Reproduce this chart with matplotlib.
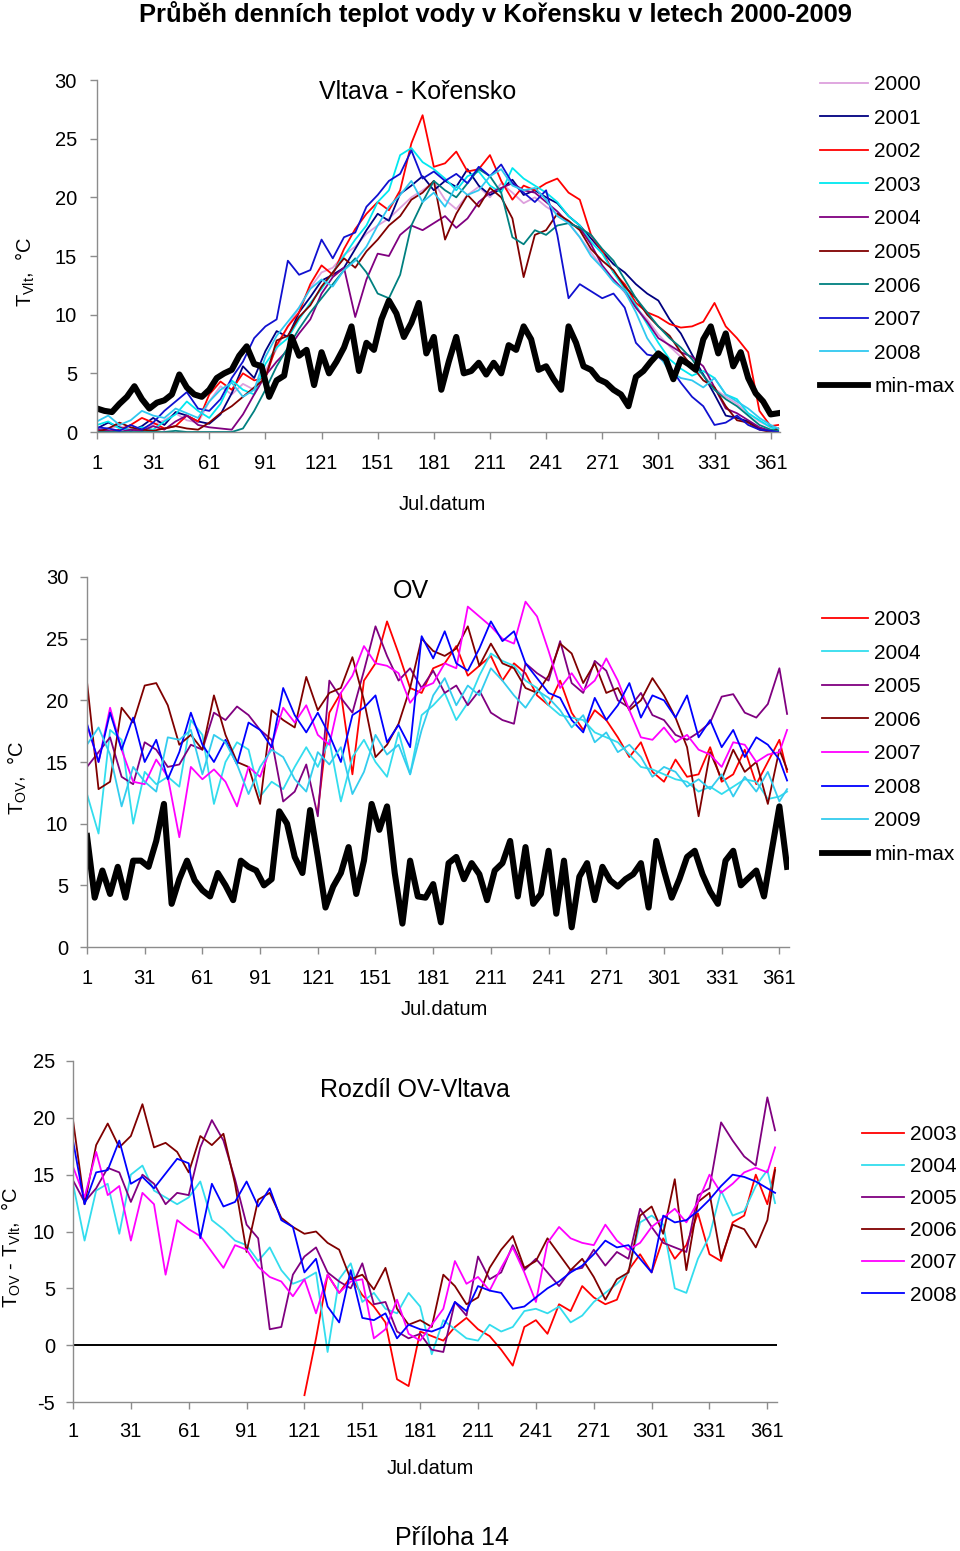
import numpy as np
import matplotlib
matplotlib.use('Agg')
import matplotlib.pyplot as plt
from matplotlib.lines import Line2D

plt.rcParams['font.family'] = ['Liberation Sans', 'DejaVu Sans']
plt.rcParams['mathtext.fontset'] = 'custom'
plt.rcParams['mathtext.rm'] = 'Liberation Sans'
plt.rcParams['mathtext.it'] = 'Liberation Sans:italic'
plt.rcParams['axes.unicode_minus'] = False

nan = np.nan

# day grid of the yearly series (every 6th day) and of the min-max series (every 4th day)
DAYS = list(range(1, 362, 6)) + [365]
DAYS_MM = list(range(1, 366, 4))
XTICKS = list(range(1, 362, 30))

# ---------------- Vltava - Korensko ----------------
vlt_years = ['2000', '2001', '2002', '2003', '2004', '2005', '2006', '2007', '2008']
vlt_colors = ['#DDA0DD', '#000080', '#FF0000', '#00E8F0', '#800080', '#800000', '#008080', '#1010D0', '#30C8F0']

vlt_2000 = [0.2, 0.3, 0.5, 0.2, 0.3, 0.6, 1.0, 1.6, 1.0, 0.8,
            2.6, 3.9, 3.2, 4.1, 3.6, 5.2, 7.1, 9.0, 10.6, 12.3,
            13.6, 14.0, 15.1, 15.8, 16.9, 17.6, 18.2, 19.1, 20.0, 20.6,
            21.3, 19.8, 19.0, 20.2, 20.9, 20.0, 21.2, 20.4, 19.5, 20.0,
            19.2, 18.6, 17.8, 16.6, 15.3, 14.0, 13.0, 11.9, 10.6, 9.6,
            8.3, 7.3, 6.4, 5.6, 4.9, 3.7, 3.0, 2.4, 1.6, 0.9, 0.4, 0.3]
vlt_2001 = [0.3, 0.8, 0.4, 0.1, 0.5, 1.2, 0.6, 1.7, 1.4, 0.9,
            0.7, 1.5, 3.3, 5.6, 4.6, 6.9, 8.6, 8.1, 10.2, 11.5,
            12.9, 13.4, 14.0, 15.6, 17.2, 18.6, 18.0, 20.3, 21.0, 21.8,
            20.6, 21.4, 20.9, 22.4, 21.0, 20.2, 20.7, 21.5, 20.2, 20.6,
            20.0, 19.5, 18.4, 17.6, 16.5, 15.4, 14.3, 13.6, 12.6, 11.8,
            11.2, 9.6, 8.4, 6.6, 4.9, 3.2, 1.4, 1.2, 0.9, 0.3, 0.1, 0.1]
vlt_2002 = [0.1, 0.0, 0.2, 0.6, 1.2, 0.8, 0.3, 0.5, 1.4, 0.9,
            3.2, 4.3, 3.6, 5.0, 4.4, 4.6, 7.4, 9.0, 10.2, 12.6,
            14.2, 13.4, 15.6, 17.3, 18.6, 19.6, 18.9, 20.6, 24.6, 27.0,
            22.6, 22.9, 23.9, 22.2, 22.4, 23.6, 21.4, 19.8, 21.0, 20.6,
            21.2, 21.6, 20.4, 19.8, 16.8, 15.4, 13.6, 12.6, 11.0, 10.2,
            9.8, 9.2, 8.9, 9.0, 9.4, 11.0, 9.0, 8.0, 6.8, 1.8, 0.5, 0.6]
vlt_2003 = [0.6, 0.9, 0.3, 0.2, 0.4, 0.2, 0.9, 1.5, 2.6, 1.8,
            1.2, 2.4, 4.4, 3.6, 3.2, 5.8, 7.2, 8.0, 9.6, 11.0,
            12.2, 13.6, 15.0, 16.4, 17.6, 19.6, 20.6, 23.6, 24.2, 23.0,
            22.4, 21.6, 20.6, 21.8, 22.2, 21.0, 20.4, 22.5, 21.6, 21.0,
            20.4, 19.6, 18.4, 17.6, 16.2, 15.2, 13.6, 12.2, 10.8, 9.2,
            7.6, 6.2, 5.4, 4.8, 5.2, 4.6, 3.2, 2.8, 1.6, 1.0, 0.4, 0.2]
vlt_2004 = [0.2, 0.1, 0.0, 0.2, 0.1, 0.5, 0.2, 0.9, 1.4, 0.6,
            0.4, 0.3, 0.2, 1.5, 3.2, 4.8, 6.0, 7.0, 8.4, 9.6,
            11.8, 13.2, 14.0, 9.8, 13.0, 15.2, 15.0, 16.8, 17.6, 17.2,
            17.8, 18.4, 17.4, 18.2, 19.6, 20.4, 20.8, 21.2, 20.6, 20.4,
            19.6, 18.8, 17.8, 17.4, 16.0, 14.2, 13.0, 12.0, 10.6, 9.4,
            8.0, 7.4, 6.8, 6.4, 5.6, 3.8, 2.0, 1.6, 1.0, 0.4, 0.1, 0.0]
vlt_2005 = [0.0, 0.3, 0.8, 0.4, 0.2, 0.1, 0.3, 0.5, 0.3, 0.2,
            0.8, 1.6, 2.2, 3.0, 3.8, 4.6, 7.8, 8.2, 9.8, 10.8,
            12.4, 13.6, 14.8, 14.0, 15.4, 16.4, 17.6, 18.4, 19.8, 20.4,
            21.4, 16.4, 18.6, 20.2, 19.2, 20.8, 20.0, 18.2, 13.2, 16.8,
            17.2, 18.6, 18.0, 17.2, 15.6, 14.6, 13.8, 12.4, 11.4, 10.0,
            9.0, 8.2, 6.8, 5.6, 4.4, 3.8, 2.2, 1.0, 0.8, 0.2, 0.0, 0.3]
vlt_2006 = [0.0, 0.0, 0.0, 0.0, 0.0, 0.0, 0.0, 0.1, 0.0, 0.0,
            0.0, 0.0, 0.0, 0.3, 1.8, 3.6, 5.6, 7.2, 8.8, 10.2,
            11.4, 12.6, 13.8, 14.8, 13.6, 11.8, 11.4, 13.4, 17.6, 19.6,
            21.4, 20.6, 20.0, 21.2, 22.4, 21.8, 20.4, 16.6, 16.0, 17.2,
            16.8, 17.6, 17.8, 17.4, 16.8, 15.6, 14.6, 13.0, 11.4, 10.2,
            9.0, 8.0, 7.2, 6.2, 4.8, 3.6, 2.8, 2.2, 1.4, 0.6, 0.2, 0.1]
vlt_2007 = [0.4, 0.3, 0.1, 0.6, 0.2, 0.8, 1.8, 2.6, 3.4, 2.0,
            1.8, 2.8, 4.6, 6.0, 8.0, 9.0, 9.6, 14.6, 13.4, 13.8,
            16.4, 14.8, 16.6, 17.0, 19.2, 20.2, 21.4, 22.0, 24.0, 21.6,
            22.2, 21.4, 22.0, 21.2, 22.6, 21.8, 22.8, 21.2, 20.4, 19.6,
            20.6, 16.8, 11.4, 12.6, 12.0, 11.4, 11.8, 10.6, 7.6, 6.6,
            6.4, 5.6, 4.2, 3.0, 2.2, 0.6, 0.8, 1.4, 0.6, 0.2, 0.1, 0.0]
vlt_2008 = [0.9, 1.4, 0.6, 1.0, 1.8, 1.4, 1.2, 2.0, 1.6, 1.2,
            2.6, 3.6, 4.2, 3.0, 3.6, 6.4, 8.2, 9.4, 10.6, 12.2,
            13.0, 12.4, 13.8, 14.6, 15.8, 17.6, 19.2, 20.2, 21.4, 19.6,
            20.4, 19.2, 21.0, 20.2, 20.6, 21.8, 22.4, 21.0, 20.6, 20.8,
            19.8, 18.4, 17.8, 16.6, 15.0, 14.0, 12.8, 12.0, 10.2, 8.0,
            6.6, 5.2, 4.6, 4.4, 3.8, 4.6, 3.2, 2.6, 2.0, 1.2, 0.6, 0.3]
vlt_minmax = [2.0, 1.8, 1.7, 2.4, 3.0, 3.9, 2.8, 2.0, 2.5, 2.7,
              3.2, 4.9, 3.8, 3.2, 3.0, 3.6, 4.6, 5.0, 5.3, 6.5,
              7.3, 5.8, 5.6, 3.0, 4.4, 4.8, 8.1, 6.5, 7.0, 4.0,
              6.8, 5.0, 6.0, 7.2, 9.0, 5.2, 7.6, 7.0, 9.6, 11.2,
              10.1, 8.1, 9.3, 11.0, 6.7, 8.1, 3.6, 6.0, 8.1, 5.0,
              5.2, 5.9, 4.9, 5.9, 5.0, 7.4, 7.0, 9.0, 7.9, 5.3,
              5.6, 4.5, 3.6, 9.0, 7.6, 5.6, 5.3, 4.5, 4.2, 3.6,
              3.2, 2.2, 4.7, 5.2, 6.0, 6.7, 6.2, 4.5, 6.2, 5.8,
              5.3, 7.9, 9.0, 6.7, 8.4, 5.6, 6.8, 4.6, 3.3, 2.6,
              1.5, 1.6]

# ---------------- OV ----------------
ov_years = ['2003', '2004', '2005', '2006', '2007', '2008', '2009']
ov_colors = ['#FF0000', '#33DDEE', '#800080', '#800000', '#FF00FF', '#0000FF', '#33CCEE']

ov_2003 = [nan] * 20 + [
            11.0, 19.0, 20.6, 14.0, 21.6, 23.0, 26.4, 23.8, 21.0, 20.6,
            22.6, 23.0, 24.4, 22.0, 22.8, 23.6, 21.6, 23.0, 22.2, 20.4,
            19.6, 21.6, 19.0, 17.6, 19.2, 18.4, 17.0, 15.4, 16.6, 14.2,
            13.4, 15.2, 13.8, 14.0, 16.2, 13.4, 14.0, 16.0, 13.2, 15.0, 16.8, 14.2]
ov_2004 = [12.4, 9.2, 17.6, 16.8, 10.0, 14.2, 13.2, 13.8, 13.0, 18.4,
           17.2, 11.6, 15.0, 16.6, 16.0, 12.2, 13.4, 12.8, 14.6, 16.2,
           14.6, 16.8, 11.8, 15.4, 16.8, 15.0, 13.8, 17.4, 14.0, 18.8,
           19.6, 20.6, 18.4, 19.8, 22.0, 23.8, 23.2, 22.8, 21.6, 21.0,
           19.6, 18.8, 18.6, 18.4, 17.4, 17.0, 16.6, 15.6, 14.6, 14.4,
           14.0, 13.6, 13.4, 12.6, 13.0, 12.4, 13.0, 13.6, 13.4, 12.0, 12.2, 12.6]
ov_2005 = [14.6, 15.8, 17.0, 13.8, 13.2, 16.6, 16.0, 14.6, 14.8, 16.4,
           16.0, 19.0, 18.4, 19.5, 18.8, 17.6, 16.8, 11.8, 12.6, 14.8,
           10.6, 21.6, 20.2, 19.0, 22.4, 26.0, 23.6, 21.6, 22.6, 21.0,
           22.4, 20.6, 21.2, 19.6, 20.8, 19.0, 18.4, 18.1, 23.0, 22.2,
           21.6, 24.8, 21.4, 20.6, 23.2, 22.4, 20.0, 19.4, 20.6, 18.8,
           18.4, 17.2, 16.8, 17.4, 18.2, 20.3, 20.5, 19.0, 18.6, 19.7, 22.6, 18.9]
ov_2006 = [21.5, 12.8, 13.4, 19.4, 18.2, 21.2, 21.4, 19.6, 16.4, 17.2,
           16.0, 20.4, 17.2, 15.0, 14.6, 11.6, 19.2, 18.4, 17.8, 21.9,
           19.2, 20.6, 21.0, 23.5, 20.0, 15.4, 16.4, 18.1, 21.0, 25.0,
           24.0, 23.6, 24.2, 26.0, 22.8, 24.6, 23.0, 22.6, 21.0, 20.6,
           22.0, 24.6, 23.8, 21.4, 23.0, 20.6, 21.0, 19.2, 20.0, 21.8,
           20.4, 18.6, 16.2, 10.6, 15.8, 13.6, 16.0, 14.2, 15.0, 11.6, 16.0, 14.4]
ov_2007 = [18.0, 15.0, 19.4, 16.0, 13.4, 13.2, 15.2, 13.8, 8.9, 14.6,
           13.6, 14.4, 13.4, 11.4, 14.6, 13.8, 16.4, 19.4, 18.2, 19.6,
           17.2, 16.4, 20.6, 22.0, 24.4, 23.0, 22.8, 22.2, 19.8, 21.0,
           21.4, 23.0, 22.6, 27.6, 26.8, 26.0, 25.0, 24.6, 28.0, 26.8,
           24.0, 21.0, 22.2, 20.8, 21.6, 23.4, 21.6, 19.2, 17.0, 16.8,
           17.8, 16.6, 17.2, 16.0, 15.6, 14.6, 16.6, 16.4, 15.0, 15.6, 15.8, 17.6]
ov_2008 = [18.1, 15.0, 19.0, 16.0, 18.6, 15.0, 16.8, 13.6, 15.8, 19.0,
           16.4, 15.0, 16.8, 14.8, 18.2, 17.6, 16.2, 21.0, 18.8, 17.4,
           19.0, 17.2, 15.0, 18.8, 19.4, 20.4, 16.6, 18.0, 16.2, 25.2,
           23.4, 25.6, 23.0, 22.4, 24.2, 26.4, 24.8, 25.6, 23.0, 21.8,
           20.6, 20.2, 18.4, 17.4, 20.2, 18.4, 19.6, 21.4, 18.6, 20.4,
           20.0, 18.6, 20.4, 17.0, 18.4, 16.2, 17.6, 15.4, 17.0, 16.4, 15.2, 13.5]
ov_2009 = [16.4, 17.8, 15.6, 11.4, 14.6, 13.4, 12.6, 17.0, 16.8, 17.6,
           14.0, 17.2, 16.6, 14.8, 12.4, 14.6, 16.0, 15.4, 13.6, 12.6,
           15.8, 14.8, 16.2, 12.4, 14.2, 17.2, 15.6, 16.4, 14.0, 17.6,
           20.4, 21.8, 19.6, 21.2, 20.4, 22.6, 21.6, 20.4, 19.4, 20.8,
           20.2, 19.2, 17.8, 18.8, 16.6, 17.4, 15.8, 16.4, 15.4, 13.8,
           14.6, 14.2, 13.0, 13.6, 12.8, 14.0, 12.2, 13.8, 12.6, 14.2, 11.8, 12.8]
ov_minmax = [9.0, 4.0, 6.2, 4.3, 6.5, 4.0, 7.0, 7.0, 6.5, 8.6,
             11.6, 3.5, 5.5, 7.0, 5.4, 4.6, 4.1, 6.0, 5.0, 3.8,
             7.0, 6.5, 6.2, 5.0, 5.5, 11.0, 10.0, 7.3, 6.0, 11.1,
             7.3, 3.2, 4.9, 6.0, 8.1, 4.3, 7.0, 11.6, 9.5, 11.4,
             6.0, 1.9, 7.0, 4.1, 4.0, 5.1, 2.0, 6.8, 7.3, 5.5,
             6.8, 5.9, 3.8, 6.2, 6.8, 8.6, 4.1, 8.1, 3.5, 4.3,
             7.8, 2.7, 7.0, 1.6, 5.7, 6.8, 3.8, 6.5, 5.4, 4.9,
             5.5, 5.9, 6.8, 3.2, 8.6, 6.2, 4.0, 5.5, 7.3, 7.8,
             5.9, 4.5, 3.5, 7.0, 7.8, 5.0, 5.6, 6.2, 4.1, 7.8,
             11.4, 6.5]

# ---------------- Rozdil OV - Vltava ----------------
dif_years = ['2003', '2004', '2005', '2006', '2007', '2008']
dif_colors = ['#FF0000', '#33DDEE', '#800080', '#800000', '#FF00FF', '#0000FF']

dif_2003 = [nan] * 20 + [
            -4.4, 0.6, 6.2, 4.6, 6.0, 4.4, 3.4, 2.0, -3.0, -3.6,
            1.2, 0.8, 0.4, 1.6, 2.4, 1.4, 0.8, -0.4, -1.8, 1.6,
            2.2, 1.0, 3.6, 3.0, 5.2, 4.2, 3.6, 4.0, 6.6, 8.0,
            6.4, 9.4, 7.6, 8.8, 11.6, 8.0, 7.4, 10.8, 11.4, 15.0, 12.4, 15.6]
dif_2004 = [14.2, 9.2, 13.6, 14.2, 9.8, 15.0, 15.8, 13.6, 13.0, 12.4,
            13.0, 14.4, 11.0, 10.2, 9.2, 8.8, 7.4, 8.6, 6.6, 5.4,
            5.8, 6.4, -0.6, 5.8, 7.2, 3.8, 4.6, 3.2, 2.8, 4.6,
            3.4, -0.8, 2.2, 1.4, 0.6, 0.4, 1.8, 1.2, 1.6, 3.0,
            3.2, 2.8, 3.4, 2.0, 2.6, 3.8, 4.6, 5.4, 6.4, 10.8,
            11.4, 10.6, 5.0, 4.6, 7.6, 9.6, 13.6, 11.4, 11.8, 14.0, 15.4, 12.5]
dif_2005 = [14.5, 12.6, 13.8, 15.6, 15.2, 12.6, 15.0, 14.2, 12.4, 13.4,
            13.2, 17.4, 19.8, 18.0, 14.6, 10.6, 9.4, 1.4, 1.6, 6.2,
            7.8, 8.6, 6.4, 5.6, 5.0, 7.2, 3.6, 3.8, 1.2, 0.6,
            1.0, -0.4, -0.6, 3.8, 2.6, 7.8, 5.8, 6.4, 8.8, 6.6,
            7.6, 6.4, 5.2, 6.6, 6.8, 8.4, 7.0, 8.2, 7.6, 12.0,
            10.4, 9.0, 8.6, 8.2, 13.2, 13.8, 19.6, 18.0, 16.6, 15.8, 21.8, 18.9]
dif_2006 = [19.8, 12.4, 17.6, 19.5, 17.4, 18.4, 21.2, 17.4, 17.8, 17.0,
            15.2, 18.4, 17.6, 18.6, 14.2, 8.2, 12.8, 13.4, 11.2, 10.4,
            9.8, 10.0, 9.0, 8.4, 5.8, 6.2, 4.9, 6.8, 3.2, 1.8,
            2.2, 1.6, 6.2, 5.2, 3.6, 4.2, 6.8, 8.4, 9.6, 6.8,
            7.4, 9.4, 8.0, 6.6, 7.6, 6.0, 4.0, 5.8, 6.4, 11.4,
            12.2, 9.8, 14.6, 6.6, 12.6, 13.4, 7.6, 10.6, 10.2, 8.6, 11.0, 15.4]
dif_2007 = [15.7, 13.0, 17.0, 13.2, 14.0, 9.2, 13.4, 12.4, 6.2, 11.0,
            10.2, 9.6, 8.2, 6.8, 8.8, 8.4, 6.9, 6.0, 5.6, 4.3,
            5.8, 2.8, 6.2, 4.6, 5.6, 5.8, 0.6, 1.4, 4.0, 1.0,
            0.4, 1.8, 3.2, 7.4, 5.4, 6.0, 4.8, 6.8, 8.6, 6.4,
            3.8, 9.0, 10.4, 9.4, 9.0, 8.8, 10.6, 9.2, 8.4, 9.0,
            10.4, 11.2, 12.0, 10.8, 12.6, 15.0, 13.4, 14.2, 15.2, 15.6, 15.2, 17.4]
dif_2008 = [18.0, 12.4, 15.2, 15.4, 18.0, 14.2, 14.8, 13.8, 15.1, 16.4,
            16.0, 9.4, 14.2, 12.2, 12.6, 14.4, 12.2, 13.8, 11.0, 10.4,
            6.4, 7.6, 3.4, 2.0, 6.6, 2.4, 2.2, 2.8, 0.6, 1.8,
            1.4, 1.2, 1.6, 3.8, 3.0, 5.2, 4.8, 4.6, 3.2, 3.4,
            4.2, 5.0, 5.6, 6.4, 7.0, 8.0, 9.2, 8.6, 8.8, 7.6,
            6.4, 11.4, 10.8, 11.0, 11.8, 12.8, 14.0, 15.0, 14.8, 14.4, 13.8, 13.4]

vlt_series = [vlt_2000, vlt_2001, vlt_2002, vlt_2003, vlt_2004, vlt_2005, vlt_2006, vlt_2007, vlt_2008]
ov_series = [ov_2003, ov_2004, ov_2005, ov_2006, ov_2007, ov_2008, ov_2009]
dif_series = [dif_2003, dif_2004, dif_2005, dif_2006, dif_2007, dif_2008]

GRAY = '#8c8c8c'
FS = 14.5
H = 1551.0
W = 960.0


def fy(px):
    return 1 - px / H


def style_axes(ax, ylim, yticks, xpad, ypad):
    ax.set_xlim(1, 366)
    ax.set_ylim(*ylim)
    ax.set_xticks(XTICKS)
    ax.set_yticks(yticks)
    for s in ('top', 'right'):
        ax.spines[s].set_visible(False)
    for s in ('left', 'bottom'):
        ax.spines[s].set_color(GRAY)
        ax.spines[s].set_linewidth(1.0)
    ax.tick_params(axis='both', direction='out', length=5, width=1, color=GRAY, labelsize=FS)
    ax.tick_params(axis='x', pad=xpad)
    ax.tick_params(axis='y', pad=ypad)


def add_legend(ax, labels, colors, x_px, y_px, spacing, hlen, black=True):
    handles = [Line2D([], [], color=c, lw=1.3) for c in colors]
    labs = list(labels)
    if black:
        handles.append(Line2D([], [], color='black', lw=4.2))
        labs.append('min-max')
    ax.legend(handles, labs, loc='upper left', bbox_to_anchor=(x_px / W, fy(y_px)),
              bbox_transform=ax.figure.transFigure, frameon=False, fontsize=15,
              handlelength=hlen, handletextpad=0.3, labelspacing=spacing,
              borderpad=0, borderaxespad=0)


fig = plt.figure(figsize=(9.6, 15.51), dpi=100)

fig.text(495.5 / W, fy(14), 'Průběh denních teplot vody v Kořensku v letech 2000-2009',
         ha='center', va='center', fontsize=18.4, fontweight='bold')

# panel 1
ax1 = fig.add_axes([97 / W, fy(432), (780 - 97) / W, (432 - 80) / H])
for vals, col in zip(vlt_series, vlt_colors):
    ax1.plot(DAYS, vals, color=col, lw=1.3)
ax1.plot(DAYS_MM, vlt_minmax, color='black', lw=4.4, solid_joinstyle='round')
style_axes(ax1, (0, 30), range(0, 31, 5), 11, 9.4)
fig.text(418 / W, fy(92), 'Vltava - Kořensko', ha='center', va='center', fontsize=18)
fig.text(442 / W, fy(505), 'Jul.datum', ha='center', va='center', fontsize=FS)
fig.text(25 / W, fy(272), r'T$_{\mathrm{Vlt}}$,  °C', ha='center', va='center', rotation=90, fontsize=FS)
add_legend(ax1, vlt_years, vlt_colors, 820, 75, 0.7, 2.3)

# panel 2
ax2 = fig.add_axes([87 / W, fy(947), (789 - 87) / W, (947 - 577) / H])
for vals, col in zip(ov_series, ov_colors):
    ax2.plot(DAYS, vals, color=col, lw=1.3)
ax2.plot(DAYS_MM, ov_minmax, color='black', lw=4.4, solid_joinstyle='round')
style_axes(ax2, (0, 30), range(0, 31, 5), 10.5, 8.6)
fig.text(411 / W, fy(591), 'OV', ha='center', va='center', fontsize=18)
fig.text(444 / W, fy(1010), 'Jul.datum', ha='center', va='center', fontsize=FS)
fig.text(17 / W, fy(778), r'T$_{\mathrm{OV}}$,  °C', ha='center', va='center', rotation=90, fontsize=FS)
add_legend(ax2, ov_years, ov_colors, 822, 610, 0.7, 2.2)

# panel 3
ax3 = fig.add_axes([73 / W, fy(1402), (777 - 73) / W, (1402 - 1061) / H])
for vals, col in zip(dif_series, dif_colors):
    ax3.plot(DAYS, vals, color=col, lw=1.3)
ax3.axhline(0, color='black', lw=1.4)
style_axes(ax3, (-5, 25), range(-5, 26, 5), 9.5, 8.0)
fig.text(415 / W, fy(1090), 'Rozdíl OV-Vltava', ha='center', va='center', fontsize=18)
fig.text(430 / W, fy(1468), 'Jul.datum', ha='center', va='center', fontsize=FS)
fig.text(11 / W, fy(1247), r'T$_{\mathrm{OV}}$ - T$_{\mathrm{Vlt}}$,  °C', ha='center', va='center',
         rotation=90, fontsize=FS)
add_legend(ax3, dif_years, dif_colors, 862, 1125, 0.63, 2.0, black=False)

fig.text(452 / W, fy(1538), 'Příloha 14', ha='center', va='center', fontsize=18)

fig.savefig('out.png', dpi=100)
